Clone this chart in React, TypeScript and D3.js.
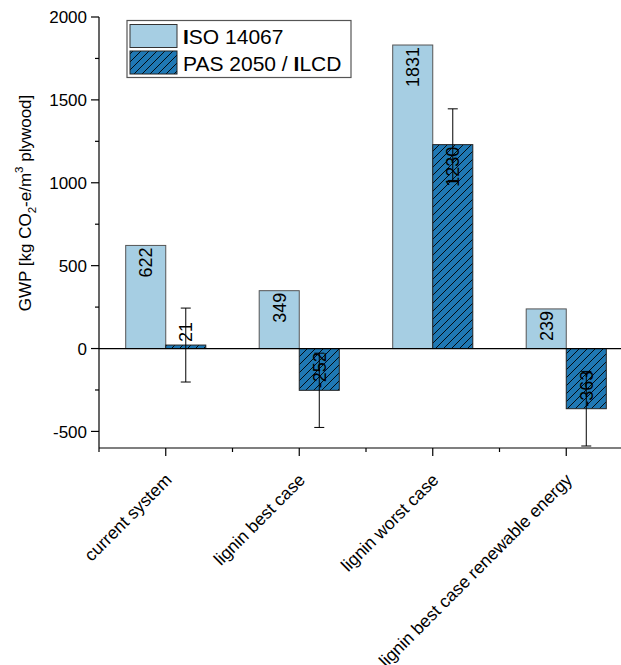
import React from 'react';
import * as d3 from 'd3';

const categories = ['current system', 'lignin best case', 'lignin worst case', 'lignin best case renewable energy'];
const seriesNames = ['ISO 14067', 'PAS 2050 / ILCD'];
const isoValues = [622, 349, 1831, 239];
const pasValues = [21, -252, 1230, -363];
const pasErrors = [223, 224, 216, 225];
const yTicks = [-500, 0, 500, 1000, 1500, 2000];
const yMinorTicks = [-250, 250, 750, 1250, 1750];

const W = 621;
const H = 665;
const left = 99;
const rightEnd = 633;
const top = 17;
const bottom = 448;
const FONT = '"Liberation Sans", Arial, Helvetica, sans-serif';
const colors = ['#a6cee3', '#1f78b4'];

export default function App() {
  const x = d3.scaleBand<string>().domain(categories).range([left, rightEnd]).paddingInner(0.4).paddingOuter(0.2);
  const xs = d3.scaleBand<string>().domain(seriesNames).range([0, x.bandwidth()]);
  const y = d3.scaleLinear().domain([-600, 2000]).range([bottom, top]);
  const step = x.step();
  const boundaries = d3.range(categories.length + 1).map((i) => left + i * step);

  const series = [isoValues, pasValues];

  return (
    <svg width={W} height={H} style={{ position: 'absolute', left: 0, top: 0, background: '#fff' }} fontFamily={FONT}>
      <defs>
        <pattern id="hatch" patternUnits="userSpaceOnUse" width={8} height={8}>
          <rect width={8} height={8} fill={colors[1]} />
          <path d="M-2,2 L2,-2 M0,8 L8,0 M6,10 L10,6" stroke="#000" strokeWidth={0.9} />
        </pattern>
      </defs>
      {/* bars */}
      {categories.map((c, i) =>
        series.map((vals, s) => {
          const v = vals[i];
          const bx = (x(c) as number) + (xs(seriesNames[s]) as number);
          const bw = xs.bandwidth();
          const y0 = y(0);
          const yv = y(v);
          return (
            <rect
              key={`${c}-${s}`}
              x={bx}
              y={Math.min(y0, yv)}
              width={bw}
              height={Math.abs(yv - y0)}
              fill={s === 0 ? colors[0] : 'url(#hatch)'}
              stroke={s === 0 ? '#555' : '#222'}
              strokeWidth={1}
            />
          );
        })
      )}
      {/* zero line */}
      <line x1={left} x2={W} y1={y(0)} y2={y(0)} stroke="#000" strokeWidth={1.2} />
      {/* bar labels */}
      {categories.map((c, i) =>
        series.map((vals, s) => {
          const v = vals[i];
          const cx = (x(c) as number) + (xs(seriesNames[s]) as number) + xs.bandwidth() / 2;
          const hgt = Math.abs(y(v) - y(0));
          let ty: number;
          let anchor: 'start' | 'end';
          if (v >= 0 && hgt > 20) {
            ty = y(v) + 2;
            anchor = 'end';
          } else if (v >= 0) {
            ty = y(v) - 3;
            anchor = 'start';
          } else {
            ty = y(v) - 2;
            anchor = 'start';
          }
          return (
            <text
              key={`l-${c}-${s}`}
              transform={`translate(${cx + 6.5},${ty}) rotate(-90)`}
              textAnchor={anchor}
              fontSize={18}
              fill="#000"
            >
              {String(v)}
            </text>
          );
        })
      )}
      {/* error bars */}
      {categories.map((c, i) => {
        const cx = (x(c) as number) + (xs(seriesNames[1]) as number) + xs.bandwidth() / 2;
        const yt = y(pasValues[i] + pasErrors[i]);
        const yb = y(pasValues[i] - pasErrors[i]);
        return (
          <g key={`e-${c}`} stroke="#000" strokeWidth={1}>
            <line x1={cx} x2={cx} y1={yt} y2={yb} />
            <line x1={cx - 5} x2={cx + 5} y1={yt} y2={yt} />
            <line x1={cx - 5} x2={cx + 5} y1={yb} y2={yb} />
          </g>
        );
      })}
      {/* y axis */}
      <line x1={left} x2={left} y1={top} y2={bottom} stroke="#000" strokeWidth={1.2} />
      {yTicks.map((t) => (
        <g key={`yt-${t}`}>
          <line x1={left - 8} x2={left} y1={y(t)} y2={y(t)} stroke="#000" strokeWidth={1.2} />
          <text x={left - 12} y={y(t)} dy="0.36em" textAnchor="end" fontSize={17} fill="#000">
            {t}
          </text>
        </g>
      ))}
      {yMinorTicks.map((t) => (
        <line key={`ym-${t}`} x1={left - 4} x2={left} y1={y(t)} y2={y(t)} stroke="#000" strokeWidth={1.2} />
      ))}
      {/* x axis */}
      <line x1={left} x2={W} y1={bottom} y2={bottom} stroke="#000" strokeWidth={1.2} />
      {categories.map((c) => {
        const cx = (x(c) as number) + x.bandwidth() / 2;
        return (
          <g key={`xt-${c}`}>
            <line x1={cx} x2={cx} y1={bottom} y2={bottom + 8} stroke="#000" strokeWidth={1.2} />
            <text transform={`translate(${cx + 7},${481}) rotate(-45)`} textAnchor="end" fontSize={17.5} fill="#000">
              {c}
            </text>
          </g>
        );
      })}
      {boundaries.map((b, i) => (
        <line key={`xm-${i}`} x1={b} x2={b} y1={bottom} y2={bottom + 4} stroke="#000" strokeWidth={1.2} />
      ))}
      {/* y label */}
      <text transform={`translate(31,203) rotate(-90)`} textAnchor="middle" fontSize={17} fill="#000">
        GWP [kg CO
        <tspan fontSize={11.5} dy={5}>2</tspan>
        <tspan dy={-5}>-e/m</tspan>
        <tspan fontSize={11.5} dy={-8}>3</tspan>
        <tspan dy={8}> plywood]</tspan>
      </text>
      {/* legend */}
      <rect x={127} y={20.5} width={224} height={57} fill="#fff" stroke="#555" strokeWidth={1.2} />
      <rect x={130} y={24.5} width={47} height={23} fill={colors[0]} stroke="#333" strokeWidth={1} />
      <rect x={130} y={51} width={47} height={23} fill="url(#hatch)" stroke="#222" strokeWidth={1} />
      <text x={183} y={44} fontSize={21} fill="#000">
        <tspan fontWeight="bold">I</tspan>SO 14067
      </text>
      <text x={183} y={70.5} fontSize={21} fill="#000">
        PAS 2050 / <tspan fontWeight="bold">I</tspan>LCD
      </text>
    </svg>
  );
}
